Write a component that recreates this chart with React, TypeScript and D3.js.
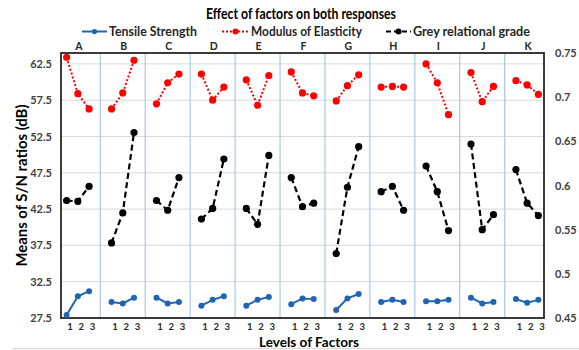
import * as d3 from "d3";
import React, { useEffect, useRef } from "react";

const factors = ["A", "B", "C", "D", "E", "F", "G", "H", "I", "J", "K"];
const levels = ["1", "2", "3"];

// S/N ratio (dB), left axis
const tensile = [
  [27.9, 30.5, 31.2], [29.7, 29.5, 30.3], [30.3, 29.5, 29.7], [29.2, 30.0, 30.5],
  [29.2, 30.0, 30.4], [29.4, 30.2, 30.1], [28.6, 30.2, 30.8], [29.7, 30.0, 29.7],
  [29.8, 29.8, 30.0], [30.3, 29.5, 29.7], [30.1, 29.6, 30.0],
];
const modulus = [
  [63.4, 58.4, 56.3], [56.3, 58.5, 63.0], [57.0, 59.9, 61.1], [61.1, 57.5, 59.3],
  [60.3, 56.8, 60.9], [61.4, 58.5, 58.1], [57.4, 59.5, 61.0], [59.3, 59.4, 59.3],
  [62.5, 59.9, 55.5], [61.3, 57.3, 59.4], [60.2, 59.6, 58.3],
];
// grey relational grade, right axis
const grade = [
  [0.583, 0.582, 0.599], [0.535, 0.569, 0.66], [0.583, 0.572, 0.609], [0.562, 0.574, 0.63],
  [0.574, 0.556, 0.634], [0.609, 0.576, 0.58], [0.523, 0.598, 0.644], [0.593, 0.599, 0.572],
  [0.622, 0.593, 0.549], [0.647, 0.55, 0.567], [0.618, 0.58, 0.566],
];

const leftTicks = [27.5, 32.5, 37.5, 42.5, 47.5, 52.5, 57.5, 62.5];
const rightTicks = [0.45, 0.5, 0.55, 0.6, 0.65, 0.7, 0.75];

const Chart = () => {
  const ref = useRef<SVGSVGElement>(null);

  useEffect(() => {
    const width = 579;
    const height = 350;
    const margin = { top: 53, right: 35, bottom: 32, left: 61 };
    const font = "Lato, 'Open Sans', sans-serif";

    const svg = d3.select(ref.current).attr("width", width).attr("height", height);
    svg.selectAll("*").remove();

    const plotBottom = height - margin.bottom;
    const plotRight = width - margin.right;

    // 3 levels per factor + one empty slot between factors
    const nSlots = factors.length * 4 - 1;
    const x = d3
      .scaleBand<number>()
      .domain(d3.range(nSlots))
      .range([margin.left, plotRight]);
    const cx = (p: number, l: number) => x(p * 4 + l)! + x.bandwidth() / 2;

    const yL = d3.scaleLinear().domain([27.5, 64]).range([plotBottom, margin.top]);
    const yR = d3.scaleLinear().domain([0.45, 0.75]).range([plotBottom, margin.top]);

    // gridlines
    svg
      .append("g")
      .selectAll("line")
      .data(leftTicks)
      .enter()
      .append("line")
      .attr("x1", margin.left)
      .attr("x2", plotRight)
      .attr("y1", (d) => yL(d))
      .attr("y2", (d) => yL(d))
      .attr("stroke", "#d9d9d9")
      .attr("stroke-width", 1);

    // panel separators
    svg
      .append("g")
      .selectAll("line")
      .data(d3.range(1, factors.length))
      .enter()
      .append("line")
      .attr("x1", (p) => x(p * 4 - 1)! + x.bandwidth() / 2)
      .attr("x2", (p) => x(p * 4 - 1)! + x.bandwidth() / 2)
      .attr("y1", margin.top)
      .attr("y2", plotBottom)
      .attr("stroke", "#a9c8e8")
      .attr("stroke-width", 1.2);

    // plot border
    svg
      .append("rect")
      .attr("x", margin.left)
      .attr("y", margin.top)
      .attr("width", plotRight - margin.left)
      .attr("height", plotBottom - margin.top)
      .attr("fill", "none")
      .attr("stroke", "#262626")
      .attr("stroke-width", 1.8);

    // outer chart border (bottom edge visible)
    svg
      .append("line")
      .attr("x1", 13)
      .attr("x2", width)
      .attr("y1", 348.5)
      .attr("y2", 348.5)
      .attr("stroke", "#d9d9d9");

    // axes
    const left = svg
      .append("g")
      .attr("transform", `translate(${margin.left - 6},0)`)
      .call(d3.axisLeft(yL).tickValues(leftTicks).tickSize(0).tickFormat(d3.format(".1f")));
    left.select(".domain").remove();
    left
      .selectAll("text")
      .attr("font-family", font)
      .attr("font-size", 11)
      .attr("font-weight", "bold")
      .attr("fill", "#404040");

    const right = svg
      .append("g")
      .attr("transform", `translate(${plotRight + 8},0)`)
      .call(d3.axisRight(yR).tickValues(rightTicks).tickSize(0).tickFormat((d) => `${+d}`));
    right.select(".domain").remove();
    right
      .selectAll("text")
      .attr("font-family", font)
      .attr("font-size", 11)
      .attr("font-weight", "bold")
      .attr("fill", "#404040");

    // factor letters and level labels
    svg
      .append("g")
      .selectAll("text")
      .data(factors)
      .enter()
      .append("text")
      .attr("x", (d, p) => cx(p, 1) + 1)
      .attr("y", 50)
      .attr("text-anchor", "middle")
      .attr("font-family", font)
      .attr("font-size", 10.5)
      .attr("font-weight", "bold")
      .attr("fill", "#262626")
      .text((d) => d);

    factors.forEach((f, p) => {
      svg
        .append("g")
        .selectAll("text")
        .data(levels)
        .enter()
        .append("text")
        .attr("x", (d, l) => cx(p, l) + 3.5)
        .attr("y", 329.5)
        .attr("text-anchor", "middle")
        .attr("font-family", font)
        .attr("font-size", 9.5)
        .attr("font-weight", "bold")
        .attr("fill", "#262626")
        .text((d) => d);
    });

    // series
    const series = [
      { data: tensile, y: yL, color: "#1f64b1", dash: null, w: 2, r: 3 },
      { data: modulus, y: yL, color: "#ff0000", dash: "2,2", w: 2, r: 3.6 },
      { data: grade, y: yR, color: "#000000", dash: "6,3.5", w: 2.2, r: 3.6 },
    ];

    series.forEach((s) => {
      const g = svg.append("g");
      s.data.forEach((vals, p) => {
        const line = d3
          .line<number>()
          .x((d, l) => cx(p, l))
          .y((d) => s.y(d));
        g.append("path")
          .datum(vals)
          .attr("d", line)
          .attr("fill", "none")
          .attr("stroke", s.color)
          .attr("stroke-width", s.w)
          .attr("stroke-dasharray", s.dash);
        g.selectAll(null)
          .data(vals)
          .enter()
          .append("circle")
          .attr("cx", (d, l) => cx(p, l))
          .attr("cy", (d) => s.y(d))
          .attr("r", s.r)
          .attr("fill", s.color);
      });
    });

    // title
    svg
      .append("text")
      .attr("x", 301)
      .attr("y", 18.5)
      .attr("text-anchor", "middle")
      .attr("font-family", font)
      .attr("font-size", 15)
      .attr("font-weight", "bold")
      .attr("fill", "#000")
      .attr("textLength", 190)
      .attr("lengthAdjust", "spacingAndGlyphs")
      .text("Effect of factors on both responses");

    // legend
    const legend = [
      { label: "Tensile Strength", x0: 82, x1: 107, len: 88, color: "#1f64b1", dash: null, w: 2, r: 2.6 },
      { label: "Modulus of Elasticity", x0: 222, x1: 249, len: 111, color: "#ff0000", dash: "2,2", w: 1.8, r: 3 },
      { label: "Grey relational grade", x0: 386, x1: 411, len: 117, color: "#000000", dash: "5,3", w: 1.8, r: 3 },
    ];
    const lg = svg.append("g");
    legend.forEach((d) => {
      lg.append("line")
        .attr("x1", d.x0)
        .attr("x2", d.x1)
        .attr("y1", 31.5)
        .attr("y2", 31.5)
        .attr("stroke", d.color)
        .attr("stroke-width", d.w)
        .attr("stroke-dasharray", d.dash);
      lg.append("circle")
        .attr("cx", (d.x0 + d.x1) / 2)
        .attr("cy", 31.5)
        .attr("r", d.r)
        .attr("fill", d.color);
      lg.append("text")
        .attr("x", d.x1 + 2)
        .attr("y", 35.5)
        .attr("font-family", font)
        .attr("font-size", 12.5)
        .attr("font-weight", "bold")
        .attr("fill", "#262626")
        .attr("textLength", d.len)
        .attr("lengthAdjust", "spacingAndGlyphs")
        .text(d.label);
    });

    // axis titles
    svg
      .append("text")
      .attr("transform", `translate(27,${(margin.top + plotBottom) / 2}) rotate(-90)`)
      .attr("text-anchor", "middle")
      .attr("font-family", font)
      .attr("font-size", 15)
      .attr("font-weight", "bold")
      .attr("fill", "#000")
      .attr("textLength", 162)
      .attr("lengthAdjust", "spacingAndGlyphs")
      .text("Means of S/N ratios (dB)");

    svg
      .append("text")
      .attr("x", 309)
      .attr("y", 346.5)
      .attr("text-anchor", "middle")
      .attr("font-family", font)
      .attr("font-size", 14)
      .attr("font-weight", "bold")
      .attr("fill", "#000")
      .attr("textLength", 100)
      .attr("lengthAdjust", "spacingAndGlyphs")
      .text("Levels of Factors");
  }, []);

  return <svg ref={ref} style={{ position: "absolute", left: 0, top: 0 }}></svg>;
};

export default function App() {
  return <Chart />;
}
